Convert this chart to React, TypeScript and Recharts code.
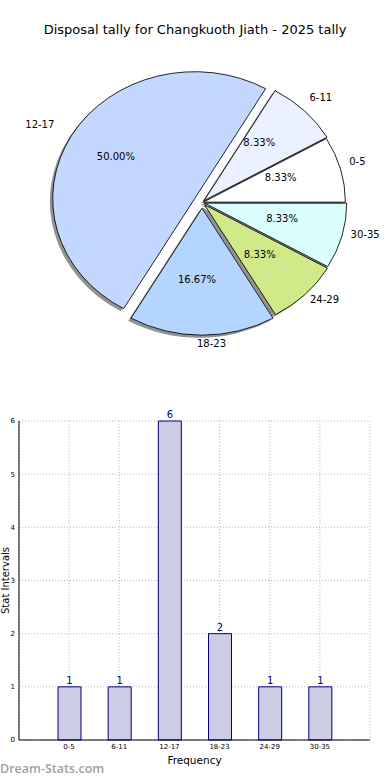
import React from 'react';
import {
  PieChart, Pie, Cell, Sector, BarChart, Bar, XAxis, YAxis, CartesianGrid, LabelList, Label,
} from 'recharts';

// ---- data ----
const CATEGORIES = ['0-5', '6-11', '12-17', '18-23', '24-29', '30-35'];
const COUNTS = [1, 1, 6, 2, 1, 1];
const Y_TICKS = [0, 1, 2, 3, 4, 5, 6];
const TITLE = 'Disposal tally for Changkuoth Jiath - 2025 tally';

// ---- style ----
const SLICE_COLORS = ['#FFFFFF', '#EBF1FF', '#C4D8FF', '#B3D5FF', '#D0EA8A', '#DBFFFF'];
const EXPLODE = [0.01, 0.02, 0.06, 0.045, 0.025, 0.02];
const FONT = '"DejaVu Sans", Verdana, sans-serif';
const PIE_CX = 197;
const PIE_CY = 198;
const RX = 142;
const RY = 127;
const K = RY / RX;
const RAD = Math.PI / 180;

const pieData = CATEGORIES.map((name, i) => ({ name, value: COUNTS[i] }));
const barData = CATEGORIES.map((category, i) => ({ category, count: COUNTS[i] }));

const idxOf = (p: any) => {
  const n = p?.name ?? p?.payload?.name;
  const i = CATEGORIES.indexOf(n);
  return i < 0 ? 0 : i;
};

const explodeTransform = (p: any) => {
  const i = idxOf(p);
  const e = EXPLODE[i];
  const c = Math.cos(p.midAngle * RAD);
  const s = Math.sin(p.midAngle * RAD);
  const dx = e * RX * c;
  const dy = -e * RY * s;
  return `translate(${dx} ${dy}) translate(${PIE_CX} ${PIE_CY}) scale(1 ${K}) translate(${-PIE_CX} ${-PIE_CY})`;
};

const SliceShape = (p: any) => (
  <g transform={explodeTransform(p)}>
    <Sector
      cx={p.cx}
      cy={p.cy}
      innerRadius={0}
      outerRadius={p.outerRadius}
      startAngle={p.startAngle}
      endAngle={p.endAngle}
      fill={SLICE_COLORS[idxOf(p)]}
      stroke="#000"
      strokeWidth={0.9}
    />
  </g>
);

const ShadowShape = (p: any) => (
  <g transform={`translate(${-0.02 * RX} ${0.02 * RY}) ` + explodeTransform(p)}>
    <Sector
      cx={p.cx}
      cy={p.cy}
      innerRadius={0}
      outerRadius={p.outerRadius}
      startAngle={p.startAngle}
      endAngle={p.endAngle}
      fill="#3a3a3a"
      fillOpacity={0.55}
      stroke="none"
    />
  </g>
);

const renderPieLabel = (p: any) => {
  const i = idxOf(p);
  const e = EXPLODE[i];
  const c = Math.cos(p.midAngle * RAD);
  const s = Math.sin(p.midAngle * RAD);
  const nx = PIE_CX + (1.1 + e) * RX * c;
  const ny = PIE_CY - (1.1 + e) * RY * s;
  const px = PIE_CX + (0.6 + e) * RX * c;
  const py = PIE_CY - (0.6 + e) * RY * s;
  const anchor = c >= -1e-6 ? 'start' : 'end';
  const pct = ((p.percent ?? 0) * 100).toFixed(2) + '%';
  return (
    <g>
      <text x={nx} y={ny} textAnchor={anchor} dominantBaseline="central" fontSize={10} fontFamily={FONT} fill="#000">
        {CATEGORIES[i]}
      </text>
      <text x={px} y={py} textAnchor="middle" dominantBaseline="central" fontSize={10} fontFamily={FONT} fill="#000">
        {pct}
      </text>
    </g>
  );
};

const XTitle = (p: any) => {
  const vb = p.viewBox || {};
  return (
    <text x={vb.x + vb.width / 2} y={vb.y + 20} textAnchor="middle" dominantBaseline="central" fontSize={10.5} fontFamily={FONT} fill="#000">
      Frequency
    </text>
  );
};

const YTitle = (p: any) => {
  const vb = p.viewBox || {};
  const x = vb.x + 5.5;
  const y = vb.y + vb.height / 2;
  return (
    <text x={x} y={y} transform={`rotate(-90 ${x} ${y})`} textAnchor="middle" dominantBaseline="central" fontSize={10} fontFamily={FONT} fill="#000">
      Stat Intervals
    </text>
  );
};

export default function App() {
  return (
    <div style={{ position: 'absolute', left: 0, top: 0, width: 390, height: 780, background: '#fff', fontFamily: FONT }}>
      <div style={{ position: 'absolute', left: 0, top: 22, width: 390, textAlign: 'center', fontSize: 13, lineHeight: '16px', color: '#000' }}>
        {TITLE}
      </div>
      <div style={{ position: 'absolute', left: 0, top: 0 }}>
        <PieChart width={390} height={390}>
          <Pie
            data={pieData}
            dataKey="value"
            nameKey="name"
            cx={PIE_CX}
            cy={PIE_CY}
            outerRadius={RX}
            startAngle={0}
            endAngle={360}
            isAnimationActive={false}
            shape={ShadowShape}
            inactiveShape={ShadowShape}
            activeShape={ShadowShape}
            label={false}
            labelLine={false}
            stroke="none"
          />
          <Pie
            data={pieData}
            dataKey="value"
            nameKey="name"
            cx={PIE_CX}
            cy={PIE_CY}
            outerRadius={RX}
            startAngle={0}
            endAngle={360}
            isAnimationActive={false}
            shape={SliceShape}
            inactiveShape={SliceShape}
            activeShape={SliceShape}
            label={renderPieLabel}
            labelLine={false}
          >
            {pieData.map((d, i) => (
              <Cell key={d.name} fill={SLICE_COLORS[i]} />
            ))}
          </Pie>
        </PieChart>
      </div>
      <div style={{ position: 'absolute', left: 0, top: 400 }}>
        <BarChart width={390} height={380} data={barData} margin={{ top: 21, right: 20, bottom: 0, left: 0 }}>
          <XAxis
            dataKey="category"
            padding={{ left: 25, right: 25 }}
            height={40}
            tick={{ fontSize: 7, fill: '#000', fontFamily: FONT }}
            tickLine={false}
            tickSize={0}
            tickMargin={4}
            axisLine={{ stroke: '#000' }}
            interval={0}
            label={<Label content={XTitle} />}
          />
          <XAxis xAxisId="top" orientation="top" dataKey="category" height={0} tick={false} tickLine={false} axisLine={{ stroke: '#000' }} padding={{ left: 25, right: 25 }} />
          <YAxis
            domain={[0, 6]}
            ticks={Y_TICKS}
            width={19}
            tick={{ fontSize: 7, fill: '#000', fontFamily: FONT }}
            tickLine={false}
            tickSize={0}
            tickMargin={4}
            axisLine={{ stroke: '#000' }}
            label={<Label content={YTitle} />}
          />
          <YAxis yAxisId="right" orientation="right" domain={[0, 6]} width={0} tick={false} tickLine={false} axisLine={{ stroke: '#000' }} />
          <Bar dataKey="count" barSize={23} fill="#CCCCE5" stroke="#000080" strokeWidth={1} isAnimationActive={false}>
            <LabelList dataKey="count" position="top" offset={3} fill="#000080" fontSize={10} fontFamily={FONT} />
          </Bar>
          <CartesianGrid stroke="#b8b8b8" strokeDasharray="1 2" />
        </BarChart>
      </div>
      <div style={{ position: 'absolute', left: 0, top: 760, fontSize: 12.5, fontWeight: 600, fontFamily: '"Open Sans", sans-serif', color: '#a0a0a0', lineHeight: '18px' }}>
        Dream-Stats.com
      </div>
    </div>
  );
}
